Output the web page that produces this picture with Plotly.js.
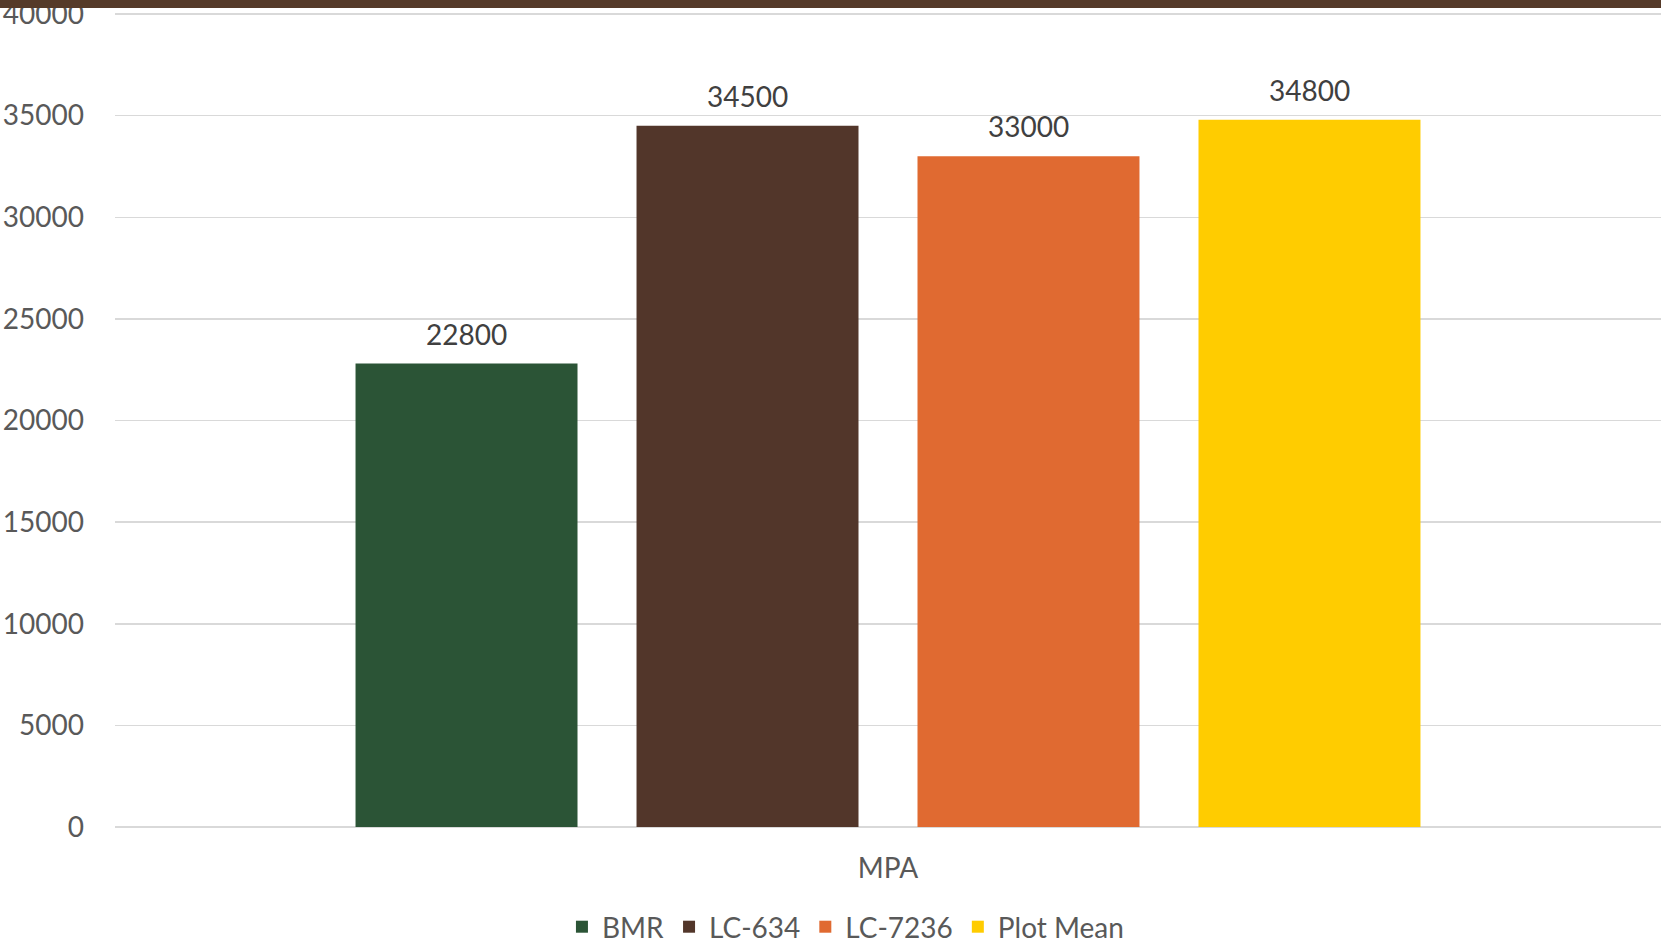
<!DOCTYPE html>
<html>
<head>
<meta charset="utf-8">
<script src="https://cdn.plot.ly/plotly-3.0.1.min.js"></script>
<style>html,body{margin:0;padding:0;background:#fff;}#chart{width:1661px;height:944px;}</style>
</head>
<body>
<div id="chart"></div>
<script>
const category = ["MPA"];
const seriesNames = ["BMR", "LC-634", "LC-7236", "Plot Mean"];
const seriesValues = [22800, 34500, 33000, 34800];
const seriesColors = ["#2B5436", "#52362A", "#E06A31", "#FFCC00"];
const yTicks = [0, 5000, 10000, 15000, 20000, 25000, 30000, 35000, 40000];

const BARGAP = 0.273, GROUPGAP = 0.21;
const FONT = "Lato, 'Open Sans', sans-serif";

const traces = seriesNames.map((name, i) => ({
  type: "bar",
  name: name,
  x: category,
  y: [seriesValues[i]],
  marker: {color: seriesColors[i]},
  hoverinfo: "none"
}));

const slot = (1 - BARGAP) / seriesNames.length;
const annotations = seriesValues.map((v, i) => ({
  x: (i - (seriesNames.length - 1) / 2) * slot,
  y: v,
  xref: "x", yref: "y",
  text: String(v),
  showarrow: false,
  yanchor: "middle",
  yshift: 30,
  font: {family: FONT, size: 28, color: "#404040"}
}));

const layout = {
  width: 1661, height: 944,
  margin: {l: 115, r: 0, t: 12, b: 117, pad: 0, autoexpand: false},
  paper_bgcolor: "#ffffff",
  plot_bgcolor: "#ffffff",
  barmode: "group",
  bargap: BARGAP,
  bargroupgap: GROUPGAP,
  font: {family: FONT, size: 28, color: "#595959"},
  xaxis: {
    type: "category",
    showgrid: false,
    showline: false,
    zeroline: false,
    ticks: "",
    ticklabelstandoff: 22,
    automargin: false,
    tickfont: {family: FONT, size: 28, color: "#595959"}
  },
  yaxis: {
    range: [0, 40100],
    tickvals: yTicks,
    ticktext: yTicks.map(String),
    showgrid: true,
    gridcolor: "#D9D9D9",
    gridwidth: 1.5,
    zeroline: true,
    zerolinecolor: "#D9D9D9",
    zerolinewidth: 1.5,
    showline: false,
    ticks: "",
    ticklabelstandoff: 30,
    ticklabeloverflow: "allow",
    automargin: false,
    tickfont: {family: FONT, size: 28, color: "#595959"}
  },
  showlegend: true,
  legend: {
    orientation: "h",
    xref: "container", yref: "container",
    x: 0.509, xanchor: "center",
    y: 0.018, yanchor: "middle",
    font: {family: FONT, size: 28, color: "#595959"},
    itemclick: false, itemdoubleclick: false
  },
  annotations: annotations,
  shapes: [{
    type: "rect", xref: "paper", yref: "paper",
    x0: -0.1, x1: 1.05, y0: 1.0049, y1: 1.05,
    fillcolor: "#553A29", line: {width: 0}, layer: "above"
  }]
};

Plotly.newPlot("chart", traces, layout, {staticPlot: true, displayModeBar: false});
</script>
</body>
</html>
